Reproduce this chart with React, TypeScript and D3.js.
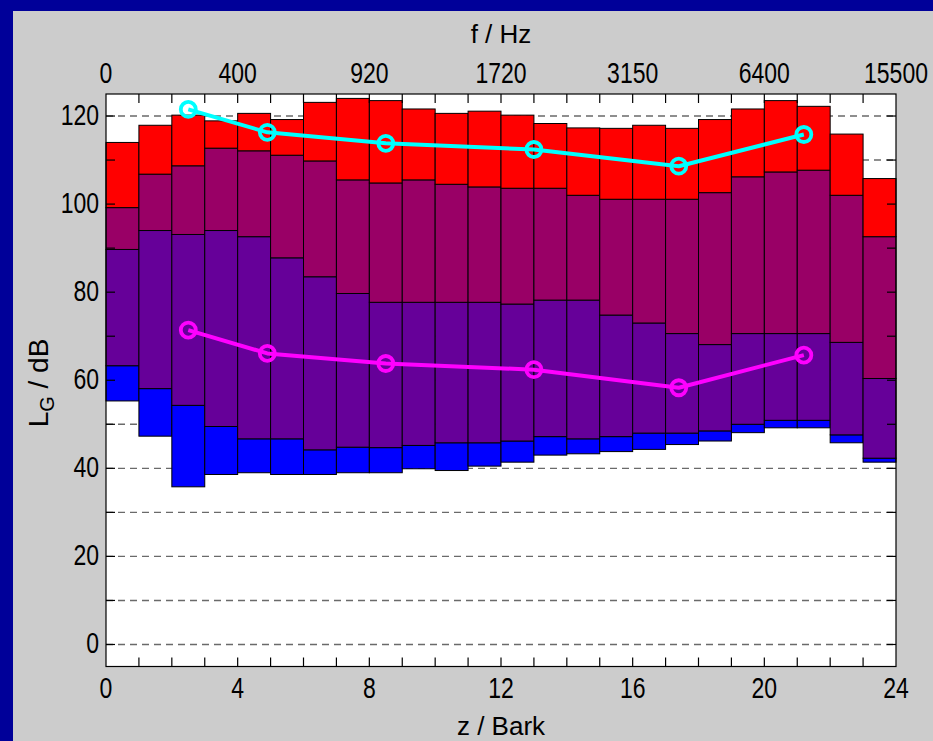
import React from 'react';
import * as d3 from 'd3';

const W = 933;
const H = 741;

// Critical bands (Bark), 24 bands
const bandStart = [0, 1, 2, 3, 4, 5, 6, 7, 8, 9, 10, 11, 12, 13, 14, 15, 16, 17, 18, 19, 20, 21, 22, 23];
// Layer boundaries per band (dB)
const levelBlueBottom = [55.3, 47.3, 35.8, 38.6, 39.0, 38.6, 38.6, 39.0, 39.0, 39.9, 39.5, 40.5, 41.4, 43.0, 43.3, 43.8, 44.3, 45.4, 46.2, 48.1, 49.2, 49.2, 45.8, 41.4];
const levelBlueTop = [63.3, 58.1, 54.3, 49.5, 46.7, 46.7, 44.2, 44.8, 44.7, 45.2, 45.8, 45.8, 46.2, 47.2, 46.7, 47.2, 48.0, 48.0, 48.5, 50.0, 50.9, 50.9, 47.6, 42.3];
const levelPurpleTop = [89.7, 94.0, 93.1, 94.0, 92.6, 87.8, 83.5, 79.7, 77.7, 77.7, 77.7, 77.7, 77.3, 78.2, 78.2, 74.8, 73.0, 70.6, 68.1, 70.6, 70.6, 70.6, 68.6, 60.4];
const levelMagentaTop = [99.2, 106.8, 108.7, 112.7, 112.1, 111.1, 109.8, 105.5, 104.8, 105.5, 104.5, 103.9, 103.6, 103.6, 102.0, 101.1, 101.1, 101.1, 102.6, 106.2, 107.3, 107.7, 102.0, 92.6];
const levelRedTop = [114.0, 117.9, 120.2, 118.9, 120.6, 119.2, 123.1, 124.0, 123.5, 121.6, 120.6, 121.1, 120.2, 118.3, 117.3, 117.2, 117.9, 117.2, 119.2, 121.6, 123.5, 122.2, 115.9, 105.8];
const layerColors = ['#0000ff', '#660099', '#990066', '#ff0000'];

// Octave-band curves (positions in Bark)
const octaveBark = [2.5, 4.9, 8.5, 13.0, 17.4, 21.2];
const cyanLevels = [121.5, 116.3, 113.8, 112.4, 108.6, 115.8];
const magentaLevels = [71.4, 66.1, 63.8, 62.4, 58.3, 65.7];

// Axis ticks
const barkTicks = [0, 4, 8, 12, 16, 20, 24];
const freqLabels = ['0', '400', '920', '1720', '3150', '6400', '15500'];
const dbTicks = [0, 20, 40, 60, 80, 100, 120];
const gridLevels = [0, 10, 20, 30, 40, 50, 60, 70, 80, 90, 100, 110, 120];
const barkMinorTicks = [1, 2, 3, 4, 5, 6, 7, 8, 9, 10, 11, 12, 13, 14, 15, 16, 17, 18, 19, 20, 21, 22, 23];

const FONT = '"Liberation Sans", Arial, Helvetica, sans-serif';
const TICK_SIZE = 23;
const STRETCH = 1.25;

export default function App() {
  const x = d3.scaleLinear().domain([0, 24]).range([106, 896]);
  const y = d3.scaleLinear().domain([-5, 125]).range([666.5, 94]);
  const left = x(0), right = x(24), top = y(125), bottom = y(-5);

  const layers = bandStart.map((b, i) => [
    levelBlueBottom[i], levelBlueTop[i], levelPurpleTop[i], levelMagentaTop[i], levelRedTop[i],
  ]);

  const lineGen = (vals: number[]) =>
    d3.line<number>().x((_, i) => x(octaveBark[i])).y((d) => y(d))(vals) || '';

  const curves = [
    { vals: cyanLevels, color: '#00ffff' },
    { vals: magentaLevels, color: '#ff00ff' },
  ];

  const tickLen = 9;

  return (
    <div style={{ position: 'absolute', left: 0, top: 0 }}>
      <svg width={W} height={H} style={{ display: 'block' }}>
        <rect x={0} y={0} width={W} height={H} fill="#cccccc" />
        <rect x={0} y={0} width={W} height={11} fill="#000099" />
        <rect x={0} y={0} width={13} height={H} fill="#000099" />

        {/* plot area */}
        <rect x={left} y={top} width={right - left} height={bottom - top} fill="#ffffff" />

        {/* grid */}
        {gridLevels.map((g) => (
          <line key={'g' + g} x1={left} x2={right} y1={y(g)} y2={y(g)}
            stroke="#6a6a6a" strokeWidth={1.4} strokeDasharray="7,5" />
        ))}

        {/* stacked bars */}
        {layers.map((lv, i) =>
          layerColors.map((c, k) => (
            <rect key={`b${i}-${k}`} x={x(bandStart[i])} width={x(bandStart[i] + 1) - x(bandStart[i])}
              y={y(lv[k + 1])} height={y(lv[k]) - y(lv[k + 1])}
              fill={c} stroke="#000000" strokeWidth={1} />
          ))
        )}

        {/* curves */}
        {curves.map((cv, ci) => (
          <g key={'c' + ci}>
            <path d={lineGen(cv.vals)} fill="none" stroke={cv.color} strokeWidth={4} strokeLinejoin="round" />
            {cv.vals.map((v, i) => (
              <circle key={i} cx={x(octaveBark[i])} cy={y(v)} r={7.5} fill="none" stroke={cv.color} strokeWidth={3.8} />
            ))}
          </g>
        ))}

        {/* axis box */}
        <rect x={left} y={top} width={right - left} height={bottom - top} fill="none" stroke="#000" strokeWidth={1.2} />

        {/* ticks */}
        {gridLevels.map((g) => (
          <g key={'t' + g}>
            <line x1={left} x2={left + tickLen} y1={y(g)} y2={y(g)} stroke="#000" strokeWidth={1.2} />
            <line x1={right} x2={right - tickLen} y1={y(g)} y2={y(g)} stroke="#000" strokeWidth={1.2} />
          </g>
        ))}
        {barkMinorTicks.map((b) => (
          <g key={'bt' + b}>
            <line x1={x(b)} x2={x(b)} y1={bottom} y2={bottom - tickLen} stroke="#000" strokeWidth={1.2} />
            <line x1={x(b)} x2={x(b)} y1={top} y2={top + tickLen} stroke="#000" strokeWidth={1.2} />
          </g>
        ))}

        {/* y tick labels */}
        {dbTicks.map((t) => (
          <text key={'yl' + t} transform={`translate(99,${y(t) + 8.5}) scale(1,${STRETCH})`}
            textAnchor="end" fontFamily={FONT} fontSize={TICK_SIZE} fill="#000">{t}</text>
        ))}
        {/* bottom tick labels */}
        {barkTicks.map((t) => (
          <text key={'xl' + t} transform={`translate(${x(t)},698) scale(1,${STRETCH})`}
            textAnchor="middle" fontFamily={FONT} fontSize={TICK_SIZE} fill="#000">{t}</text>
        ))}
        {/* top tick labels */}
        {barkTicks.map((t, i) => (
          <text key={'fl' + t} transform={`translate(${x(t)},83) scale(1,${STRETCH})`}
            textAnchor="middle" fontFamily={FONT} fontSize={TICK_SIZE} fill="#000">{freqLabels[i]}</text>
        ))}

        {/* axis titles */}
        <text x={(left + right) / 2} y={43} textAnchor="middle" fontFamily={FONT} fontSize={26} fill="#000">f / Hz</text>
        <text x={(left + right) / 2} y={735} textAnchor="middle" fontFamily={FONT} fontSize={26} fill="#000">z / Bark</text>
        <text transform={`translate(48,383) rotate(-90)`} textAnchor="middle" fontFamily={FONT} fontSize={28} fill="#000">
          L<tspan fontSize={20} dy={6}>G</tspan><tspan dy={-6}> / dB</tspan>
        </text>
      </svg>
    </div>
  );
}
